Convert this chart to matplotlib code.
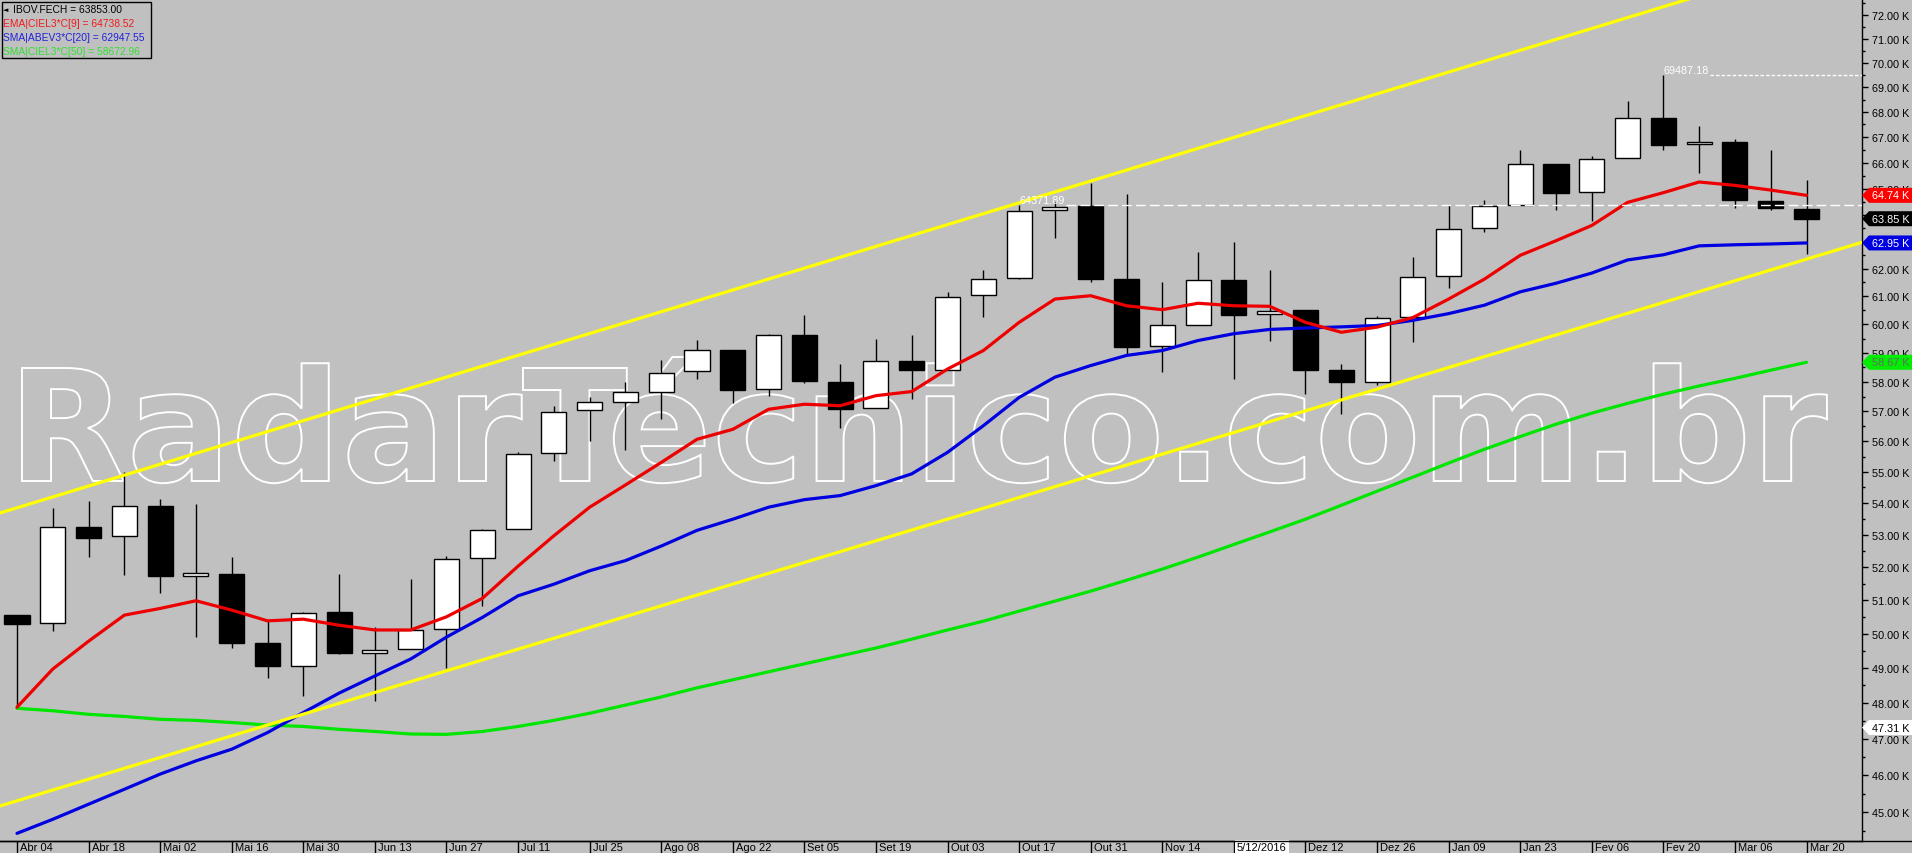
import numpy as np
import pandas as pd
import matplotlib
matplotlib.use("Agg")
import matplotlib.pyplot as plt
import matplotlib.transforms as mtransforms
from matplotlib.ticker import MultipleLocator, FuncFormatter, NullFormatter
from matplotlib.textpath import TextPath
from matplotlib.patches import PathPatch, Polygon, Rectangle
from matplotlib.font_manager import FontProperties
from matplotlib.lines import Line2D

plt.rcParams['font.family'] = ['Liberation Sans', 'DejaVu Sans']

# ---- data (weekly IBOV candles, Abr 04 2016 .. Mar 20 2017) ----
start_date = "2016-04-04"
months_pt = ["Jan", "Fev", "Mar", "Abr", "Mai", "Jun", "Jul", "Ago", "Set", "Out", "Nov", "Dez"]

opens = [50550, 50330, 53230, 52950, 53910, 51730, 51800, 49720, 49070, 50630,
         49440, 49560, 50130, 52270, 53170, 55610, 57030, 57330, 57670, 58360,
         59100, 57740, 59620, 57990, 57100, 58710, 58390, 61050, 61660, 64170,
         64340, 61620, 59230, 59990, 61570, 60350, 60520, 58390, 57980, 60270,
         61720, 63510, 64380, 65950, 64860, 66170, 67760, 66710, 66800, 64540,
         64210]
highs = [50550, 53840, 54060, 55000, 54130, 53970, 52300, 50380, 50630, 51800,
         50190, 51650, 52340, 53180, 55640, 57180, 57470, 58010, 58740, 59450,
         59100, 59650, 60320, 58610, 59480, 59620, 61170, 61940, 64371.89, 64480,
         65200, 64800, 61510, 62600, 62970, 61950, 60520, 58610, 60300, 62420,
         64360, 64550, 66510, 65950, 66270, 68460, 69487.18, 67430, 66920, 66500,
         65320]
lows = [47880, 50090, 52320, 51760, 51210, 49910, 49570, 48720, 48210, 49400,
        48060, 49560, 49000, 50830, 53170, 55370, 56020, 55720, 56740, 58110,
        57270, 57520, 57950, 56460, 57100, 57410, 58390, 60260, 61620, 63120,
        61520, 58940, 58340, 59990, 58110, 59420, 57580, 56920, 57890, 59390,
        61310, 63350, 64380, 64190, 63770, 66170, 66500, 65600, 64240, 64190,
        62530]
closes = [50300, 53230, 52910, 53900, 51730, 51810, 49730, 49060, 50600, 49430,
          49520, 50110, 52240, 53140, 55570, 56990, 57300, 57670, 58290, 59090,
          57720, 59610, 58030, 57090, 58700, 58390, 60980, 61640, 64130, 64310,
          61630, 59220, 59960, 61570, 60330, 60490, 58410, 57980, 60240, 61680,
          63480, 64330, 65950, 64840, 66130, 67740, 66700, 66790, 64560, 64240,
          63853]

ema9 = [47880, 48970, 49780, 50550, 50750, 50980, 50700, 50380, 50430, 50250,
        50110, 50110, 50500, 51050, 52030, 52970, 53870, 54580, 55310, 56070,
        56400, 57070, 57240, 57190, 57530, 57670, 58440, 59080, 60070, 60900,
        61020, 60660, 60520, 60750, 60660, 60640, 60070, 59720, 59900, 60240,
        60900, 61620, 62490, 63030, 63600, 64470, 64840, 65250, 65120, 64940,
        64738.52]
sma20 = [44450, 44820, 45220, 45620, 46030, 46390, 46710, 47170, 47730, 48280,
         48770, 49260, 49900, 50480, 51130, 51480, 51890, 52200, 52650, 53140,
         53490, 53870, 54110, 54240, 54560, 54940, 55640, 56520, 57470, 58160,
         58560, 58910, 59080, 59430, 59670, 59820, 59870, 59910, 59960, 60140,
         60380, 60680, 61160, 61470, 61840, 62320, 62510, 62840, 62880, 62910,
         62947.55]
sma50 = [47850, 47780, 47680, 47620, 47540, 47510, 47450, 47380, 47340, 47260,
         47200, 47130, 47120, 47200, 47340, 47510, 47710, 47940, 48170, 48430,
         48660, 48890, 49120, 49350, 49580, 49840, 50110, 50370, 50670, 50970,
         51270, 51600, 51940, 52310, 52700, 53090, 53490, 53930, 54380, 54830,
         55290, 55740, 56160, 56570, 56940, 57270, 57580, 57860, 58120, 58400,
         58672.96]

# channel lines, (candle index, price) anchors
upper_line = [(0, 53850), (46, 72350)]
lower_line = [(0, 45310), (50, 62350)]

# marked highs
marked_highs = [(28, 64371.89), (46, 69487.18)]

cursor_idx = 34
cursor_label = "5/12/2016"
cursor_price = 47310

legend_rows = [("IBOV.FECH = 63853.00", "black"),
               ("EMA|CIEL3*C[9] = 64738.52", "#ee1c1c"),
               ("SMA|ABEV3*C[20] = 62947.55", "#2222dd"),
               ("SMA|CIEL3*C[50] = 58672.96", "#33e033")]

BG = "#c0c0c0"
W, H = 1912, 854

opens = np.array(opens, float)
highs = np.array(highs, float)
lows = np.array(lows, float)
closes = np.array(closes, float)
n = len(closes)
x = np.arange(n)
dates = pd.date_range(start_date, periods=n, freq="7D")

fig = plt.figure(figsize=(W / 100, H / 100), dpi=100, facecolor=BG)
ax = fig.add_axes([0, 12 / H, 1862 / W, 842 / H])
ax.set_facecolor(BG)
ax.set_yscale("log")

# watermark
prop = FontProperties(family="DejaVu Sans", weight="bold")
tp = TextPath((0, 0), "RadarTécnico.com.br", size=100, prop=prop)
ext = tp.get_extents()
cap_h = TextPath((0, 0), "R", size=100, prop=prop).get_extents().height
sx = (1805 / 1862) / ext.width
sy = (113 / 842) / cap_h
wm_tr = mtransforms.Affine2D().translate(-ext.x0, 0).scale(sx, sy).translate(22 / 1862, (842 - 482) / 842) + ax.transAxes
ax.add_patch(PathPatch(tp, transform=wm_tr, fc="none", ec="white", lw=1.4, zorder=1))

# candles
up = closes >= opens
ax.vlines(x, lows, highs, color="black", lw=1, zorder=3)
ax.bar(x, np.abs(closes - opens), 0.7, bottom=np.minimum(opens, closes),
       color=np.where(up, "white", "black"), edgecolor="black", lw=1, zorder=4)

# moving averages
ax.plot(x, sma50, color="#00e600", lw=2.3, zorder=5, solid_capstyle="round")
ax.plot(x, sma20, color="#0000e0", lw=2.3, zorder=5, solid_capstyle="round")
ax.plot(x, ema9, color="#ee0000", lw=2.3, zorder=5, solid_capstyle="round")

# channel
for p1, p2 in (upper_line, lower_line):
    ax.axline(p1, p2, color="#ffff00", lw=2.3, zorder=6)

xmin, xmax = -0.475, 51.55
ax.set_xlim(xmin, xmax)
ax.set_ylim(44250, 72680)

# marked highs with dashed level lines
for (i, v), ls in zip(marked_highs, [(0, (7, 3)), (0, (2.5, 1.5))]):
    ax.text(i, v, "%.2f" % v, color="white", fontsize=7.8, ha="left", va="bottom", zorder=8)
    ax.hlines(v, i + 1.3, xmax, colors="white", linestyles=[ls], lw=1, zorder=8)

# y axis on the right
ax.yaxis.tick_right()
ax.yaxis.set_major_locator(MultipleLocator(1000))
ax.yaxis.set_minor_locator(MultipleLocator(500))
ax.yaxis.set_major_formatter(FuncFormatter(lambda v, p: "%.2f K" % (v / 1000)))
ax.yaxis.set_minor_formatter(NullFormatter())
ax.tick_params(axis="y", which="major", direction="out", length=4, width=1, pad=3,
               labelsize=7.8, colors="black")
ax.tick_params(axis="y", which="minor", direction="out", length=2.5, width=1, colors="black")

for s in ("top", "left"):
    ax.spines[s].set_visible(False)
for s in ("right", "bottom"):
    ax.spines[s].set_color("black")
    ax.spines[s].set_linewidth(1)
fig.add_artist(Line2D([0, 1], [12 / H, 12 / H], transform=fig.transFigure, color="black", lw=1))

# x axis: separators + labels in the strip
ax.set_xticks(x[::2])
ax.tick_params(axis="x", direction="out", length=12 * 0.72, width=1, color="black", labelbottom=False)
lab_tr = mtransforms.offset_copy(ax.get_xaxis_transform(), fig=fig, x=3, y=-6, units="dots")
for i in x[::2]:
    d = dates[i]
    if i == cursor_idx:
        ax.text(i, 0, cursor_label, transform=lab_tr, fontsize=8, ha="left", va="center",
                bbox=dict(fc="white", ec="none", pad=1.5), clip_on=False)
    else:
        ax.text(i, 0, "%s %02d" % (months_pt[d.month - 1], d.day), transform=lab_tr,
                fontsize=8, ha="left", va="center", clip_on=False)

# price tags on the right axis
ident = mtransforms.IdentityTransform()
ytr = ax.get_yaxis_transform()
tags = [(ema9[-1], "#ff0000", "white"), (closes[-1], "black", "white"),
        (sma20[-1], "#0000e0", "white"), (sma50[-1], "#00ee00", "#6a6a6a"),
        (cursor_price, "white", "black")]
for v, fc, tc in tags:
    px, py = ytr.transform((1.0, v))
    verts = [(px, py), (px + 7, py + 7.5), (W, py + 7.5), (W, py - 7.5), (px + 7, py - 7.5)]
    fig.add_artist(Polygon(verts, closed=True, transform=ident, fc=fc, ec="none", zorder=5))
    fig.text(px + 10, py, "%.2f K" % (v / 1000), transform=ident, color=tc,
             fontsize=7.8, ha="left", va="center", zorder=6)

# legend box top-left
fig.add_artist(Rectangle((2, H - 59), 149, 56, transform=ident, fc="none", ec="black", lw=1))
for k, (txt, col) in enumerate(legend_rows):
    ytxt = H - 10 - 14 * k
    xtxt = 13 if k == 0 else 3
    fig.text(xtxt, ytxt, txt, transform=ident, color=col, fontsize=7.4, ha="left", va="center")
fig.text(3, H - 10, "◄", transform=ident, color="black", fontsize=5, ha="left", va="center",
         family="DejaVu Sans")

fig.savefig("out.png", dpi=100, facecolor=BG)
